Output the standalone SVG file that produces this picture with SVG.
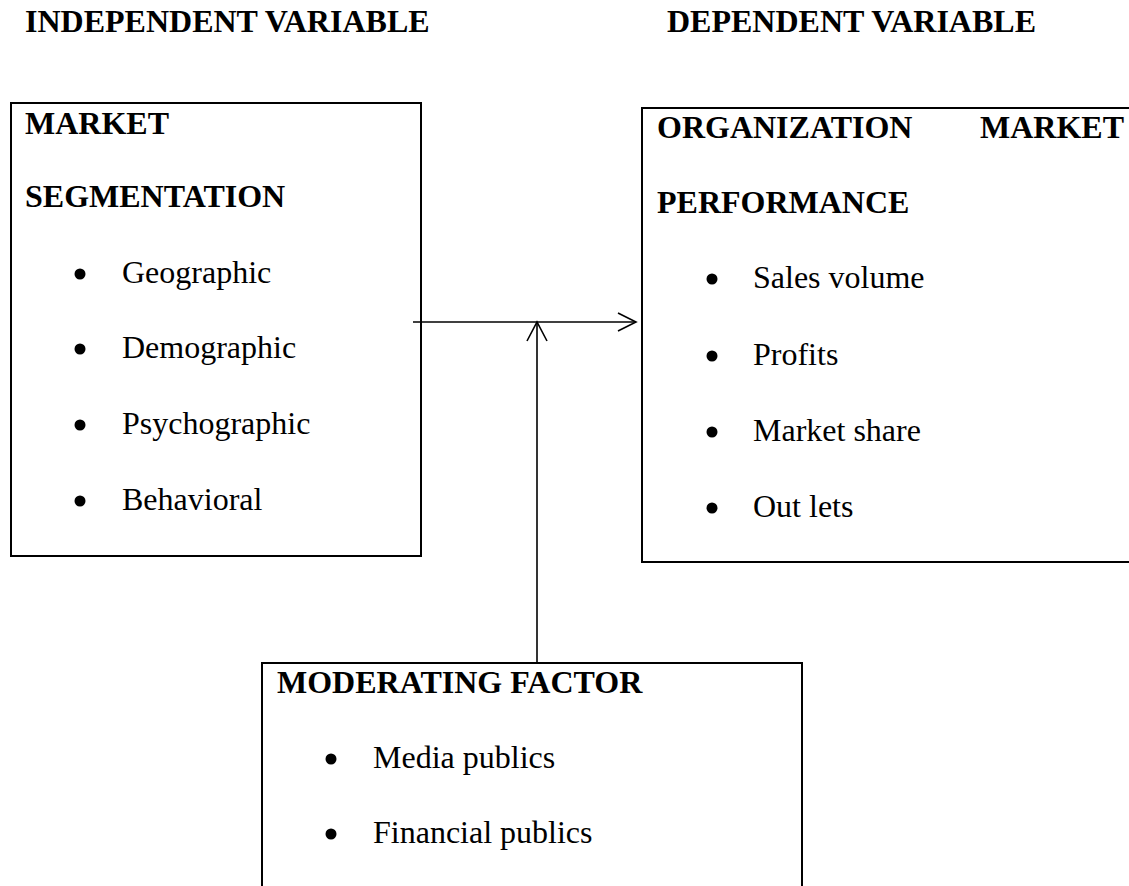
<svg xmlns="http://www.w3.org/2000/svg" width="1129" height="886" viewBox="0 0 1129 886">
<style>
text{font-family:"Liberation Serif","Times New Roman",serif;font-size:32px;fill:#000}
.b{font-weight:bold}
.box{fill:none;stroke:#000;stroke-width:2}
.dot{fill:#000}
.con{fill:none;stroke:#000;stroke-width:1.6}
</style>
<rect width="1129" height="886" fill="#fff"/>
<g id="headers">
<text class="b" x="25" y="32">INDEPENDENT VARIABLE</text>
<text class="b" x="667" y="32">DEPENDENT VARIABLE</text>
</g>
<g id="market-segmentation">
<rect class="box" x="11" y="103" width="410" height="453"/>
<text class="b" x="25" y="134">MARKET</text>
<text class="b" x="25" y="207">SEGMENTATION</text>
<circle class="dot" cx="80" cy="274" r="5.5"/><text x="122" y="283">Geographic</text>
<circle class="dot" cx="80" cy="349" r="5.5"/><text x="122" y="358">Demographic</text>
<circle class="dot" cx="80" cy="425" r="5.5"/><text x="122" y="434">Psychographic</text>
<circle class="dot" cx="80" cy="501" r="5.5"/><text x="122" y="510">Behavioral</text>
</g>
<g id="organization-market-performance">
<path class="box" d="M1131 108 H642 V562 H1131"/>
<text class="b" x="657" y="137.5">ORGANIZATION</text>
<text class="b" x="980" y="137.5">MARKET</text>
<text class="b" x="657" y="212.5">PERFORMANCE</text>
<circle class="dot" cx="712" cy="279" r="5.5"/><text x="753" y="288">Sales volume</text>
<circle class="dot" cx="712" cy="356" r="5.5"/><text x="753" y="365">Profits</text>
<circle class="dot" cx="712" cy="432" r="5.5"/><text x="753" y="441">Market share</text>
<circle class="dot" cx="712" cy="508" r="5.5"/><text x="753" y="517">Out lets</text>
</g>
<g id="moderating-factor">
<path class="box" d="M262 890 V663 H802 V890"/>
<text class="b" x="277" y="693">MODERATING FACTOR</text>
<circle class="dot" cx="331" cy="759" r="5.5"/><text x="373" y="768">Media publics</text>
<circle class="dot" cx="331" cy="834" r="5.5"/><text x="373" y="843">Financial publics</text>
</g>
<g id="connectors">
<path class="con" d="M413 322 H636"/>
<path class="con" d="M618 313 L636 322 L618 331"/>
<path class="con" d="M537 663 V322"/>
<path class="con" d="M527 341 L537 322 L547 341"/>
</g>
</svg>
